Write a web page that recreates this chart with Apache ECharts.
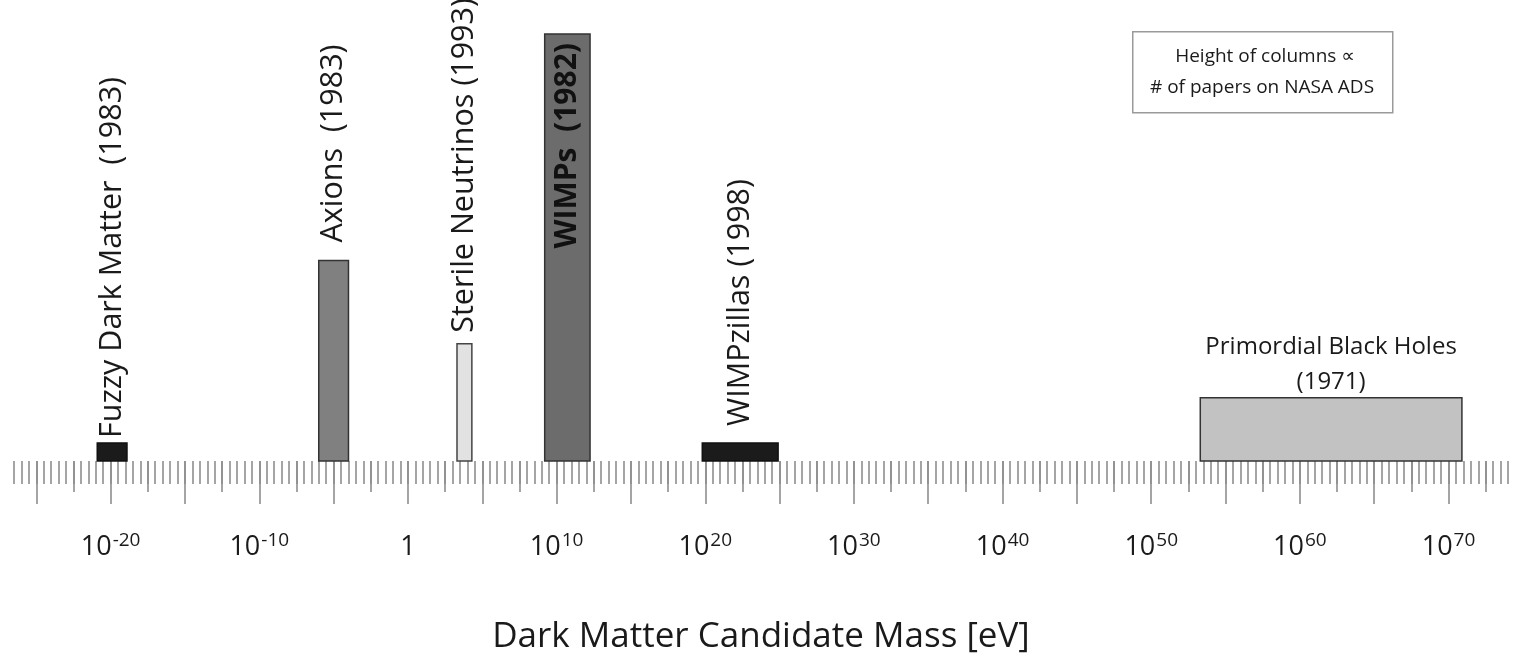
<!DOCTYPE html>
<html>
<head>
<meta charset="utf-8">
<title>Dark Matter Candidate Mass</title>
<script src="https://cdn.jsdelivr.net/npm/echarts@6/dist/echarts.min.js"></script>
<style>
  html, body { margin: 0; padding: 0; background: #fff; }
  #chart { width: 1513px; height: 658px; }
</style>
</head>
<body>
<div id="chart"></div>
<script>
// Dark matter candidates: mass range in log10(eV) and relative column height
const candidates = [
  'Fuzzy Dark Matter  (1983)',
  'Axions  (1983)',
  'Sterile Neutrinos (1993)',
  'WIMPs  (1982)',
  'WIMPzillas (1998)',
  'Primordial Black Holes\n(1971)'
];
const massLogLow  = [-20.9, -6, 3.3, 9.2, 19.8, 53.3];
const massLogHigh = [-18.9, -4, 4.3, 12.25, 24.9, 70.9];
const paperHeight = [18, 200, 117, 426, 18, 63];

// Labelled decades on the mass axis (log10 eV)
const tickLabelExponents = [-20, -10, 0, 10, 20, 30, 40, 50, 60, 70];

// Axis extent in log10(eV)
const AXIS_MIN = -26.5;
const AXIS_MAX = 74;

// Column appearance
const COLUMN_STYLE = [
  { fill: '#1b1b1b', stroke: '#111111' },
  { fill: '#808080', stroke: '#333333' },
  { fill: '#e2e2e2', stroke: '#444444' },
  { fill: '#6c6c6c', stroke: '#333333' },
  { fill: '#1b1b1b', stroke: '#111111' },
  { fill: '#c2c2c2', stroke: '#333333' }
];
// Label placement: 'up' = rotated above the column, 'inside' = rotated inside, 'flat' = horizontal above
const LABEL_LAYOUT = [
  { mode: 'up', gap: 5 },
  { mode: 'up', gap: 18 },
  { mode: 'up', gap: 11 },
  { mode: 'inside', gap: 9 },
  { mode: 'up', gap: 17 },
  { mode: 'flat', gap: 33 }
];

const FONT = '"Open Sans", "DejaVu Sans", sans-serif';
const TEXT_COLOR = '#1a1a1a';
const TICK_COLOR = '#8e8e8e';

// Tick positions (structure of the ruler, not data)
function range(start, stop, step) {
  const out = [];
  for (let v = start; v <= stop + 1e-9; v += step) out.push(Math.round(v * 100) / 100);
  return out;
}
const minorTicks = range(AXIS_MIN, AXIS_MAX, 0.5);
const midTicks = range(-22.5, AXIS_MAX, 5);
const majorTicks = range(-25, AXIS_MAX, 5);

const chart = echarts.init(document.getElementById('chart'), null, { renderer: 'canvas' });

function baseAxis(extra) {
  return Object.assign({
    type: 'value',
    min: AXIS_MIN,
    max: AXIS_MAX,
    position: 'bottom',
    axisLine: { show: false },
    splitLine: { show: false },
    axisLabel: { show: false }
  }, extra);
}

const seriesData = candidates.map((name, i) => [massLogLow[i], massLogHigh[i], paperHeight[i], i]);

function renderColumn(params, api) {
  const i = api.value(3);
  const topLeft = api.coord([api.value(0), api.value(2)]);
  const bottomRight = api.coord([api.value(1), 0]);
  const x = topLeft[0];
  const y = topLeft[1];
  const w = bottomRight[0] - x;
  const h = bottomRight[1] - y;
  const cx = x + w / 2;
  const st = COLUMN_STYLE[i];
  const lay = LABEL_LAYOUT[i];
  const children = [{
    type: 'rect',
    shape: { x: x, y: y, width: w, height: h },
    style: { fill: st.fill, stroke: st.stroke, lineWidth: 1.5 }
  }];
  if (lay.mode === 'flat') {
    children.push({
      type: 'text',
      x: cx,
      y: y - lay.gap,
      style: {
        text: candidates[i],
        fontFamily: FONT,
        fontSize: 24,
        lineHeight: 35,
        fill: TEXT_COLOR,
        align: 'center',
        verticalAlign: 'middle'
      }
    });
  } else if (lay.mode === 'inside') {
    children.push({
      type: 'text',
      x: cx,
      y: y + lay.gap,
      rotation: Math.PI / 2,
      style: {
        text: candidates[i],
        fontFamily: FONT,
        fontSize: 30,
        fontWeight: 'bold',
        fill: '#111111',
        align: 'right',
        verticalAlign: 'middle'
      }
    });
  } else {
    children.push({
      type: 'text',
      x: cx,
      y: y - lay.gap,
      rotation: Math.PI / 2,
      style: {
        text: candidates[i],
        fontFamily: FONT,
        fontSize: 30.5,
        fill: TEXT_COLOR,
        align: 'left',
        verticalAlign: 'middle'
      }
    });
  }
  return { type: 'group', children: children };
}

const option = {
  animation: false,
  backgroundColor: '#ffffff',
  grid: {
    left: 14, right: 5, top: 10, bottom: 197,
    containLabel: false,
    outerBoundsMode: 'none'
  },
  xAxis: [
    baseAxis({
      axisTick: { show: true, customValues: minorTicks, length: 23, lineStyle: { color: TICK_COLOR, width: 1.6 } }
    }),
    baseAxis({
      axisTick: { show: true, customValues: midTicks, length: 31, lineStyle: { color: TICK_COLOR, width: 1.6 } }
    }),
    baseAxis({
      name: 'Dark Matter Candidate Mass [eV]',
      nameLocation: 'middle',
      nameGap: 159,
      nameTextStyle: { fontFamily: FONT, fontSize: 35, color: TEXT_COLOR },
      axisTick: { show: true, customValues: majorTicks, length: 43, lineStyle: { color: TICK_COLOR, width: 1.6 } },
      axisLabel: {
        show: true,
        customValues: tickLabelExponents,
        margin: 70,
        formatter: function (v) {
          return v === 0 ? '{b|1}' : '{b|10}{s|' + v + '}';
        },
        rich: {
          b: { fontFamily: FONT, fontSize: 27, lineHeight: 30, color: TEXT_COLOR, verticalAlign: 'bottom' },
          s: { fontFamily: FONT, fontSize: 19, lineHeight: 22, color: TEXT_COLOR, verticalAlign: 'top', padding: [0, 0, 0, 1] }
        }
      }
    })
  ],
  yAxis: {
    type: 'value',
    min: 0,
    max: 450,
    show: false
  },
  series: [{
    type: 'custom',
    xAxisIndex: 0,
    yAxisIndex: 0,
    renderItem: renderColumn,
    encode: { x: [0, 1], y: 2 },
    data: seriesData,
    z: 5
  }],
  graphic: [
    {
      type: 'rect',
      left: 1132,
      top: 31,
      shape: { width: 260, height: 81 },
      style: { fill: '#ffffff', stroke: '#9a9a9a', lineWidth: 1.5 }
    },
    {
      type: 'text',
      x: 1265,
      y: 57,
      style: {
        text: 'Height of columns \u221d',
        fontFamily: FONT,
        fontSize: 19,
        fill: TEXT_COLOR,
        align: 'center',
        verticalAlign: 'middle'
      }
    },
    {
      type: 'text',
      x: 1262,
      y: 88,
      style: {
        text: '# of papers on NASA ADS',
        fontFamily: FONT,
        fontSize: 19,
        fill: TEXT_COLOR,
        align: 'center',
        verticalAlign: 'middle'
      }
    }
  ]
};

chart.setOption(option);
</script>
</body>
</html>
